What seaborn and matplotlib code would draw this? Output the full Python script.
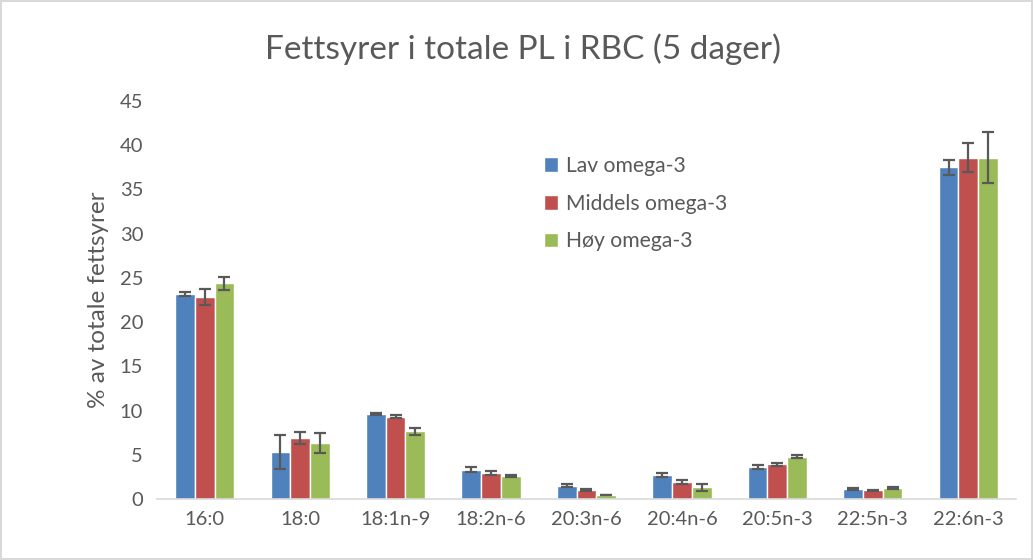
import matplotlib
matplotlib.use("Agg")
import matplotlib.pyplot as plt
import seaborn as sns
import pandas as pd
import numpy as np

categories = ["16:0", "18:0", "18:1n-9", "18:2n-6", "20:3n-6", "20:4n-6", "20:5n-3", "22:5n-3", "22:6n-3"]
groups = ["Lav omega-3", "Middels omega-3", "Høy omega-3"]
lav = [23.2, 5.3, 9.65, 3.3, 1.5, 2.68, 3.6, 1.13, 37.5]
middels = [22.8, 6.9, 9.3, 2.95, 1.05, 1.9, 3.9, 1.0, 38.6]
hoy = [24.4, 6.3, 7.65, 2.6, 0.45, 1.3, 4.8, 1.2, 38.6]
lav_err = [0.2, 1.9, 0.1, 0.3, 0.15, 0.25, 0.2, 0.1, 0.83]
middels_err = [0.9, 0.7, 0.2, 0.2, 0.1, 0.25, 0.2, 0.05, 1.6]
hoy_err = [0.75, 1.15, 0.4, 0.1, 0.05, 0.35, 0.15, 0.1, 2.9]
yticks = [0, 5, 10, 15, 20, 25, 30, 35, 40, 45]
colors = ["#4f81bd", "#c0504d", "#9bbb59"]

sns.set_theme(style="white")
plt.rcParams['font.family'] = ['Lato', 'DejaVu Sans']
text_color = "#595959"

df = pd.DataFrame({
    "cat": categories * 3,
    "group": [groups[0]] * 9 + [groups[1]] * 9 + [groups[2]] * 9,
    "value": lav + middels + hoy,
    "err": lav_err + middels_err + hoy_err,
})

fig = plt.figure(figsize=(10.33, 5.6), dpi=100)
fig.patch.set_edgecolor("#d9d9d9")
fig.patch.set_linewidth(1.5)
ax = fig.add_axes([0.152, 0.109, 0.8315, 0.7106])

sns.barplot(data=df, x="cat", y="value", hue="group", order=categories, hue_order=groups,
            palette=colors, width=0.62, errorbar=None, edgecolor="white", linewidth=1.0,
            saturation=1, ax=ax)

# error bars from patch positions
for gi, g in enumerate(groups):
    cont = ax.containers[gi]
    sub = df[df.group == g]
    xs = [p.get_x() + p.get_width() / 2 for p in cont.patches]
    ax.errorbar(xs, sub["value"].values, yerr=sub["err"].values, fmt="none",
                ecolor="#595959", elinewidth=1.6, capsize=4.5, capthick=1.6, zorder=5)

ax.set_ylim(0, 45)
ax.set_yticks(yticks)
ax.set_yticklabels([str(t) for t in yticks])
ax.set_xlim(-0.5, len(categories) - 0.5)
ax.tick_params(axis="both", length=0, labelsize=14.5, colors=text_color)
ax.tick_params(axis="y", pad=10)
ax.tick_params(axis="x", pad=9)
for s in ["top", "right", "left"]:
    ax.spines[s].set_visible(False)
ax.spines["bottom"].set_color("#d9d9d9")
ax.spines["bottom"].set_linewidth(1.2)
ax.set_xlabel("")
ax.set_ylabel("% av totale fettsyrer", fontsize=17.5, color=text_color, labelpad=8)

fig.suptitle("Fettsyrer i totale PL i RBC (5 dager)", fontsize=24, color=text_color, y=0.94, x=0.506)

leg = ax.legend(loc="upper left", bbox_to_anchor=(0.450, 0.862), frameon=False, fontsize=15.2,
                borderpad=0, borderaxespad=0,
                handlelength=0.7, handleheight=0.7, handletextpad=0.35, labelspacing=0.84)
for t in leg.get_texts():
    t.set_color(text_color)

fig.savefig("out.png", dpi=100, edgecolor=fig.get_edgecolor())
